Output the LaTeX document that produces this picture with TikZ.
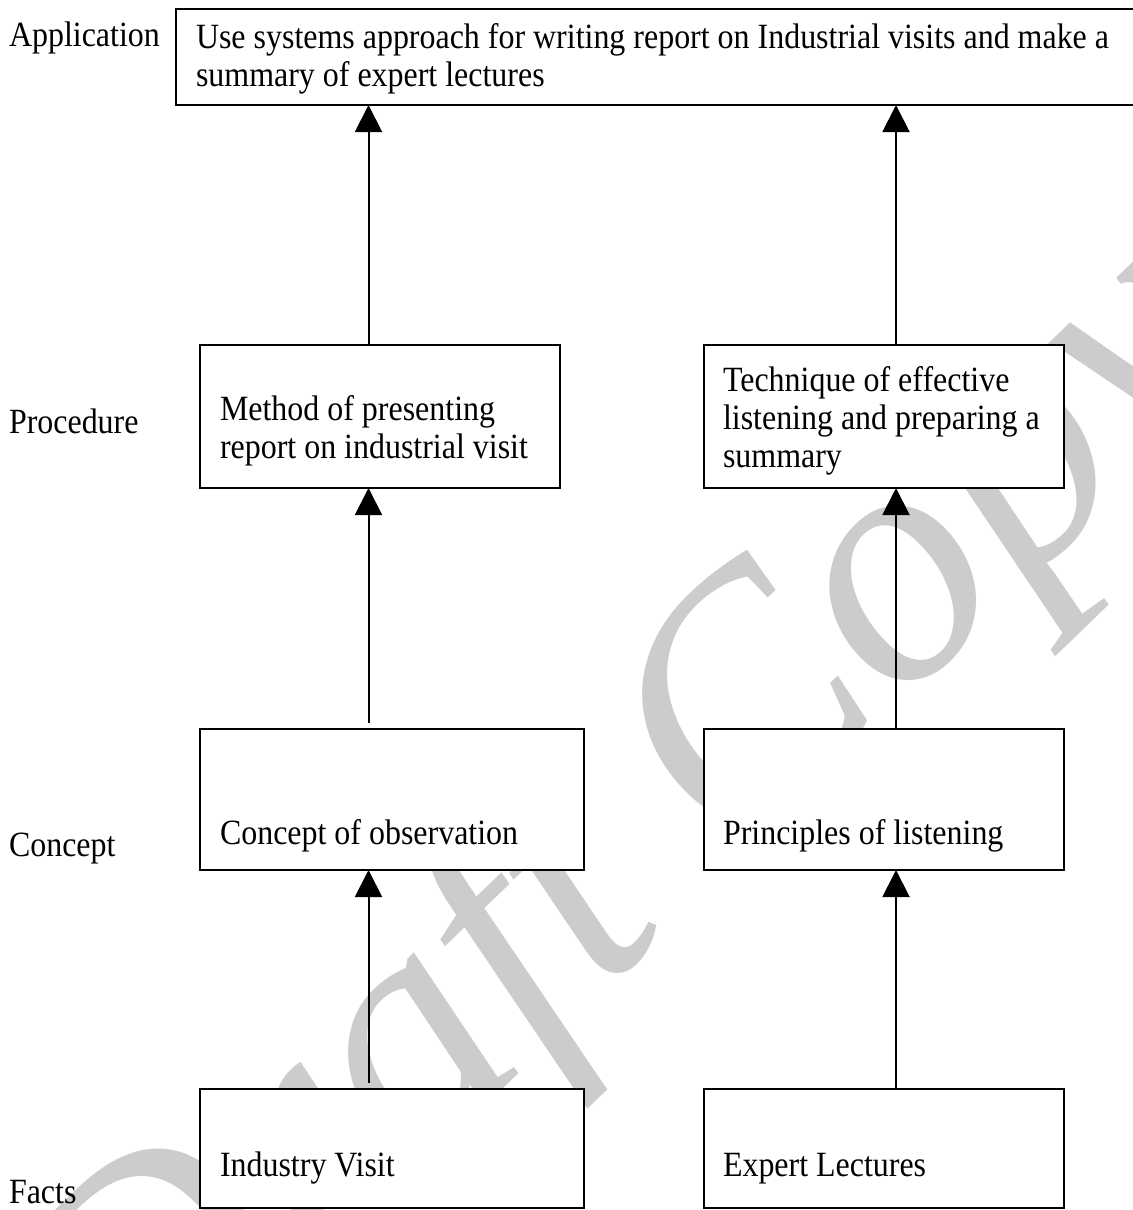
\documentclass[tikz,border=0pt]{standalone}
\usepackage{fontspec}
\setmainfont{Liberation Serif}[FakeStretch=0.9]
\newfontfamily\stampfont{Liberation Serif}
\usetikzlibrary{arrows.meta,calc}
\definecolor{markgray}{RGB}{204,204,204}
\begin{document}
\begin{tikzpicture}[x=1bp,y=-1bp,
  every node/.style={inner sep=0pt,outer sep=0pt},
  body/.style={font=\fontsize{35.5bp}{38bp}\selectfont},
  lvl/.style={body,anchor=base west},
  boxtext/.style={body,anchor=base west,align=left},
  panel/.style={draw,fill=white,line width=2bp,anchor=north west},
  conn/.style={line width=2bp,-{Triangle[width=27bp,length=27bp]}},
  stamptext/.style={text=markgray,font=\stampfont\itshape\fontsize{342bp}{342bp}\selectfont,rotate=44}]
\useasboundingbox (0,0) rectangle (1133,1210);
\clip (0,0) rectangle (1133,1210);
\fill[white] (0,0) rectangle (1133,1210);

% background stamp
\node[stamptext] (stamp) at (637,844) {Draft Copy};

% level labels
\node[lvl] (lapp)  at (9,46)   {Application};
\node[lvl] (lproc) at (9,433)  {Procedure};
\node[lvl] (lconc) at (9,856)  {Concept};
\node[lvl] (lfact) at (9,1203) {Facts};

% boxes
\node[panel,minimum width=975bp,minimum height=96bp]  (app)  at (176,9)    {};
\node[panel,minimum width=360bp,minimum height=143bp] (meth) at (200,345)  {};
\node[panel,minimum width=360bp,minimum height=143bp] (tech) at (704,345)  {};
\node[panel,minimum width=384bp,minimum height=141bp] (conc) at (200,729)  {};
\node[panel,minimum width=360bp,minimum height=141bp] (prin) at (704,729)  {};
\node[panel,minimum width=384bp,minimum height=119bp] (ind)  at (200,1089) {};
\node[panel,minimum width=360bp,minimum height=119bp] (expl) at (704,1089) {};

% box texts (anchored on the baseline of the last line)
\node[boxtext] (tapp)  at (196,86)  {Use systems approach for writing report on Industrial visits and make a\\summary of expert lectures};
\node[boxtext] (tmeth) at (220,458) {Method of presenting\\report on industrial visit};
\node[boxtext] (ttech) at (723,467) {Technique of effective\\listening and preparing a\\summary};
\node[boxtext] (tconc) at (220,844) {Concept of observation};
\node[boxtext] (tprin) at (723,844) {Principles of listening};
\node[boxtext] (tind)  at (220,1176) {Industry Visit};
\node[boxtext] (texp)  at (723,1176) {Expert Lectures};

% connector columns
\coordinate (lx) at (368.5,0);
\coordinate (rx) at (896,0);

% connectors
\draw[conn] (meth.north -| lx) -- (app.south -| lx);
\draw[conn] (tech.north -| rx) -- (app.south -| rx);
\draw[conn] ($(conc.north -| lx)+(0,-6)$) -- (meth.south -| lx);
\draw[conn] (prin.north -| rx) -- (tech.south -| rx);
\draw[conn] ($(ind.north -| lx)+(0,-6)$) -- (conc.south -| lx);
\draw[conn] (expl.north -| rx) -- (prin.south -| rx);
\end{tikzpicture}
\end{document}
